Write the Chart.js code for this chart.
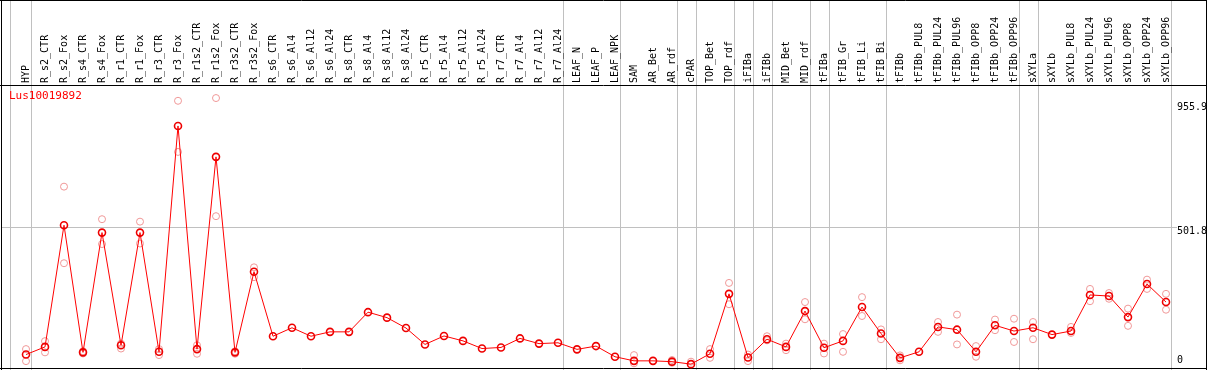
<!DOCTYPE html>
<html>
<head>
<meta charset="utf-8">
<script src="https://cdn.jsdelivr.net/npm/chart.js@4"></script>
<style>
  html, body { margin: 0; padding: 0; background: #fff; }
  canvas { display: block; }
</style>
</head>
<body>
<canvas id="myChart" width="1209" height="370"></canvas>
<script>
const title = "Lus10019892";

const categories = [
  "HYP", "R_s2_CTR", "R_s2_Fox", "R_s4_CTR", "R_s4_Fox", "R_r1_CTR", "R_r1_Fox",
  "R_r3_CTR", "R_r3_Fox", "R_r1s2_CTR", "R_r1s2_Fox", "R_r3s2_CTR", "R_r3s2_Fox",
  "R_s6_CTR", "R_s6_Al4", "R_s6_Al12", "R_s6_Al24", "R_s8_CTR", "R_s8_Al4",
  "R_s8_Al12", "R_s8_Al24", "R_r5_CTR", "R_r5_Al4", "R_r5_Al12", "R_r5_Al24",
  "R_r7_CTR", "R_r7_Al4", "R_r7_Al12", "R_r7_Al24", "LEAF_N", "LEAF_P", "LEAF_NPK",
  "SAM", "AR_Bet", "AR_rdf", "cPAR", "TOP_Bet", "TOP_rdf", "iFIBa", "iFIBb",
  "MID_Bet", "MID_rdf", "tFIBa", "tFIB_Gr", "tFIB_Li", "tFIB_Bi", "tFIBb",
  "tFIBb_PUL8", "tFIBb_PUL24", "tFIBb_PUL96", "tFIBb_OPP8", "tFIBb_OPP24", "tFIBb_OPP96",
  "sXYLa", "sXYLb", "sXYLb_PUL8", "sXYLb_PUL24", "sXYLb_PUL96", "sXYLb_OPP8",
  "sXYLb_OPP24", "sXYLb_OPP96"
];

// mean expression
const meanValues = [
  36, 64, 509, 44, 482, 70, 482, 46, 872, 56, 759, 44, 339,
  103, 134, 103, 119, 119, 191, 171, 133, 73, 104, 86, 58, 62, 95, 76, 79, 55, 67, 28,
  13, 13, 10, 1, 39, 258, 25, 92, 64, 195, 61, 86, 210, 113, 24,
  46, 137, 127, 46, 143, 122, 134, 109, 122, 254, 250, 173, 294, 228
];

// replicate values (null = hidden under the mean marker)
const repHigh = [
  56, 85, 650, 48, 531, 76, 522, 56, 964, 70, 974, 48, 355,
  null, null, null, null, null, null, null, null, null, null, null, null, null, null, null, null, null, null, null,
  34, null, 16, 10, 56, 298, 36, 103, 76, 228, 76, 111, 246, 128, 33,
  null, 155, 182, 67, 164, 167, 155, null, 137, 276, 261, 204, 310, 258
];
const repLow = [
  12, 44, 370, 40, 440, 58, 442, 34, 777, 39, 542, 39, 319,
  null, null, null, null, null, null, null, null, null, null, null, null, null, null, null, null, null, null, null,
  4, null, 6, null, 24, 220, 12, 88, 52, 165, 40, 46, 177, 92, 15,
  null, 119, 73, 28, 125, 82, 92, null, 115, 231, 240, 141, 276, 200
];

const yTicks = [0, 501.8, 955.9];
const yMax = 955.9;

// group separators drawn after these category indices
const groupEnds = [0, 28, 31, 34, 35, 37, 38, 39, 41, 42, 45, 52, 53, 60];

const replicates = [];
categories.forEach((c, i) => {
  if (repHigh[i] !== null) replicates.push({ x: c, y: repHigh[i] });
  if (repLow[i] !== null) replicates.push({ x: c, y: repLow[i] });
});

const MONO = "10px 'DejaVu Sans Mono', monospace";

const decor = {
  id: "decor",
  beforeDatasetsDraw(chart) {
    const ctx = chart.ctx;
    const xs = chart.scales.x;
    const ys = chart.scales.y;
    const W = chart.width, H = chart.height;
    const step = xs.getPixelForValue(1) - xs.getPixelForValue(0);
    ctx.save();
    ctx.lineWidth = 1;

    // grey separators
    ctx.strokeStyle = "#c0c0c0";
    ctx.beginPath();
    ctx.moveTo(10.5, 0);
    ctx.lineTo(10.5, H);
    groupEnds.forEach((i) => {
      const gx = Math.round(xs.getPixelForValue(i) + step * 0.24) + 0.5;
      ctx.moveTo(gx, 0);
      ctx.lineTo(gx, H);
    });
    const gy = Math.round(ys.getPixelForValue(501.8)) + 0.5;
    ctx.moveTo(1, gy);
    ctx.lineTo(1177, gy);
    ctx.stroke();

    // black frame
    ctx.strokeStyle = "#000";
    ctx.beginPath();
    ctx.moveTo(0, 0.5); ctx.lineTo(W - 2, 0.5);
    ctx.moveTo(0, 85.5); ctx.lineTo(W - 2, 85.5);
    ctx.moveTo(1.5, 0); ctx.lineTo(1.5, H);
    ctx.moveTo(W - 2.5, 0); ctx.lineTo(W - 2.5, H);
    ctx.moveTo(0, H - 1.5); ctx.lineTo(W - 2, H - 1.5);
    ctx.stroke();

    // category labels
    ctx.font = MONO;
    ctx.fillStyle = "#000";
    ctx.textAlign = "left";
    ctx.textBaseline = "middle";
    categories.forEach((c, i) => {
      ctx.save();
      ctx.translate(xs.getPixelForValue(i), 83);
      ctx.rotate(-Math.PI / 2);
      ctx.fillText(c, 0, 0);
      ctx.restore();
    });

    // y tick labels
    yTicks.forEach((v) => {
      const ty = ys.getPixelForValue(v);
      ctx.textBaseline = v === 0 ? "bottom" : "top";
      ctx.fillText(String(v), 1177, v === 0 ? ty + 1 : ty - 1);
    });

    // gene name
    ctx.fillStyle = "#ff0000";
    ctx.font = "11px 'DejaVu Sans Mono', monospace";
    ctx.textBaseline = "top";
    ctx.fillText(title, 9, 91);
    ctx.restore();
  }
};

new Chart(document.getElementById("myChart"), {
  type: "line",
  data: {
    labels: categories,
    datasets: [
      {
        label: title,
        data: meanValues,
        borderColor: "#ff0000",
        borderWidth: 1,
        pointRadius: 3.5,
        pointBorderWidth: 1.6,
        pointBorderColor: "#ee0000",
        pointBackgroundColor: "rgba(0,0,0,0)",
        tension: 0,
        clip: false
      },
      {
        label: "replicates",
        data: replicates,
        showLine: false,
        pointRadius: 3.5,
        pointBorderWidth: 1,
        pointBorderColor: "#f09898",
        pointBackgroundColor: "rgba(0,0,0,0)",
        clip: false
      }
    ]
  },
  options: {
    responsive: false,
    animation: false,
    devicePixelRatio: 1,
    layout: { padding: { left: 26, right: 43, top: 103, bottom: 4 } },
    plugins: { legend: { display: false }, tooltip: { enabled: false } },
    scales: {
      x: { type: "category", offset: false, display: false },
      y: { min: 0, max: yMax, display: false }
    }
  },
  plugins: [decor]
});
</script>
</body>
</html>
